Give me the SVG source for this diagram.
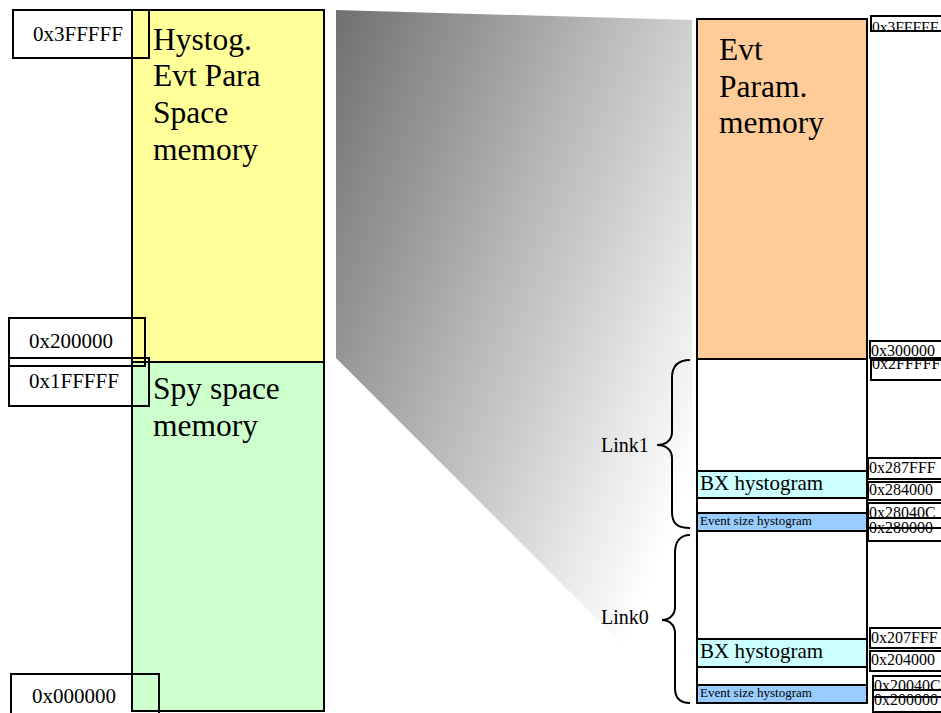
<svg xmlns="http://www.w3.org/2000/svg" width="941" height="713" viewBox="0 0 941 713">
<defs>
<linearGradient id="zoomGrad" gradientUnits="userSpaceOnUse" x1="336" y1="10" x2="804" y2="195">
<stop offset="0" stop-color="#707070"/>
<stop offset="1" stop-color="#ffffff"/>
</linearGradient>
<style>
.t{font-family:"Liberation Serif","Times New Roman",serif;fill:#000}
.big{font-size:31.5px}
.lbl{font-size:21px}
.sl{font-size:16px}
.mid{font-size:21px}
.sm{font-size:13px}
.box{fill:none;stroke:#000;stroke-width:2}
.blk{stroke:#000;stroke-width:2}
.brace{fill:none;stroke:#000;stroke-width:2}
</style>
</defs>
<rect width="941" height="713" fill="#fff"/>

<g id="zoom-wedge">
<polygon points="336,10 692,20 692,713 691,713 336,358" fill="url(#zoomGrad)"/>
</g>

<g id="hystog-space">
<rect x="132" y="10" width="192" height="352" fill="#ffff99" class="blk"/>
<text class="t big" x="153" y="50">Hystog.</text>
<text class="t big" x="153" y="86">Evt Para</text>
<text class="t big" x="153" y="123">Space</text>
<text class="t big" x="153" y="160">memory</text>
</g>
<g id="spy-space">
<rect x="132" y="362" width="192" height="349" fill="#ccffcc" class="blk"/>
<text class="t big" x="153" y="399">Spy space</text>
<text class="t big" x="153" y="436">memory</text>
</g>

<g id="addr-left-3FFFFF">
<rect x="13" y="10" width="136" height="48" class="box"/>
<text class="t lbl" x="33" y="41">0x3FFFFF</text>
</g>
<g id="addr-left-200000">
<rect x="9" y="318" width="136" height="48" class="box"/>
<text class="t lbl" x="29" y="348">0x200000</text>
</g>
<g id="addr-left-1FFFFF">
<rect x="9" y="358" width="140" height="48" class="box"/>
<text class="t lbl" x="29" y="388">0x1FFFFF</text>
</g>
<g id="addr-left-000000">
<rect x="11" y="674" width="148" height="45" class="box"/>
<text class="t lbl" x="32" y="703">0x000000</text>
</g>

<g id="evt-param">
<rect x="697" y="19" width="170" height="340" fill="#ffcc99" class="blk"/>
<text class="t big" x="719" y="60">Evt</text>
<text class="t big" x="719" y="97">Param.</text>
<text class="t big" x="719" y="133">memory</text>
</g>
<g id="link-area">
<rect x="697" y="359" width="170" height="344" fill="#fff" class="blk"/>
</g>
<g id="bx-hist-1">
<rect x="697" y="471" width="170" height="27" fill="#ccffff" class="blk"/>
<text class="t mid" x="700" y="490">BX hystogram</text>
</g>
<g id="evt-size-hist-1">
<rect x="697" y="513" width="170" height="18" fill="#99ccff" class="blk"/>
<text class="t sm" x="700" y="525">Event size hystogram</text>
</g>
<g id="bx-hist-0">
<rect x="697" y="639" width="170" height="28" fill="#ccffff" class="blk"/>
<text class="t mid" x="700" y="658">BX hystogram</text>
</g>
<g id="evt-size-hist-0">
<rect x="697" y="685" width="170" height="18" fill="#99ccff" class="blk"/>
<text class="t sm" x="700" y="697">Event size hystogram</text>
</g>

<g id="addr-right">
<g id="r-3FFFFF"><rect x="871" y="16" width="80" height="15" class="box"/><text class="t sl" x="872" y="32" style="font-size:15.5px">0x3FFFFF</text></g>
<g id="r-300000"><rect x="870" y="341" width="80" height="17" class="box"/><text class="t sl" x="871" y="356">0x300000</text></g>
<g id="r-2FFFFF"><rect x="871" y="360" width="80" height="20" class="box"/><text class="t sl" x="872" y="369">0x2FFFFF</text></g>
<g id="r-287FFF"><rect x="868" y="458" width="80" height="21" class="box"/><text class="t sl" x="869" y="473">0x287FFF</text></g>
<g id="r-284000"><rect x="868" y="482" width="80" height="18" class="box"/><text class="t sl" x="869" y="495">0x284000</text></g>
<g id="r-28040C"><rect x="868" y="503" width="80" height="25" class="box"/><text class="t sl" x="869" y="518">0x28040C</text></g>
<g id="r-280000"><rect x="868" y="518" width="80" height="23" class="box"/><text class="t sl" x="869" y="533">0x280000</text></g>
<g id="r-207FFF"><rect x="870" y="628" width="80" height="20" class="box"/><text class="t sl" x="871" y="643">0x207FFF</text></g>
<g id="r-204000"><rect x="870" y="651" width="80" height="20" class="box"/><text class="t sl" x="871" y="665">0x204000</text></g>
<g id="r-20040C"><rect x="873" y="676" width="80" height="21" class="box"/><text class="t sl" x="874" y="691">0x20040C</text></g>
<g id="r-200000"><rect x="873" y="690" width="80" height="22" class="box"/><text class="t sl" x="874" y="705">0x200000</text></g>
</g>

<g id="connectors">
<path class="brace" d="M690,360 C678,360 672,366 672,378 L672,432 C672,440 666,445 657,445 C666,445 672,450 672,458 L672,512 C672,524 678,528 690,528"/>
<path class="brace" d="M690,535 C681,535 675,541 675,553 L675,607 C675,615 669,620 662,620 C669,620 675,625 675,633 L675,688 C675,699 681,703 690,703"/>
</g>
<g id="link1-label"><text class="t" x="601" y="452" style="font-size:20px">Link1</text></g>
<g id="link0-label"><text class="t" x="601" y="624" style="font-size:20px">Link0</text></g>
</svg>
